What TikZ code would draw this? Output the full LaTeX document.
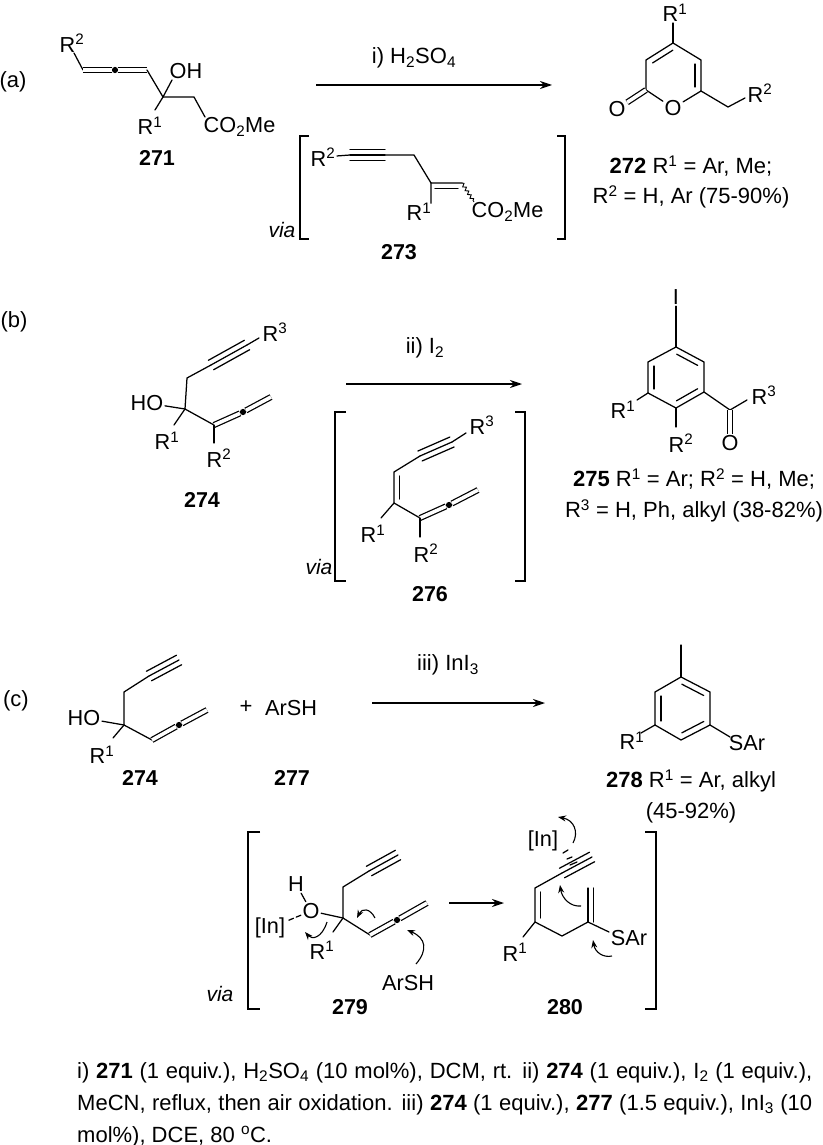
\documentclass[tikz,border=0pt]{standalone}
\usepackage{fontspec}
\usepackage{tikz}
\usetikzlibrary{calc,arrows.meta,decorations.pathmorphing}
\setmainfont{Liberation Sans}

\tikzset{
    bond/.style={line width=1.25pt, line cap=round},
    dblbond/.style={line width=1.25pt, double, double distance=3.6pt},
    wavy/.style={line width=0.9pt, decorate, decoration={snake, segment length=4.5pt, amplitude=1.5pt}},
    rxnarrow/.style={line width=1.25pt, -{Stealth[length=12pt, width=8pt]}},
    curvearrow/.style={line width=1.1pt, -{Stealth[length=8pt, width=6pt]}},
    bracket/.style={line width=1.4pt},
    atom/.style={font=\fontsize{21.7}{24}\selectfont, inner sep=1.5pt},
    txt/.style={font=\fontsize{22}{24}\selectfont, inner sep=0pt},
    viatxt/.style={font=\fontsize{21}{24}\selectfont\itshape, inner sep=0pt},
    cpd/.style={font=\fontsize{21.5}{24}\selectfont\bfseries, inner sep=0pt},
    allenedot/.style={circle, fill=black, inner sep=2.2pt}
}
% side line of a ring double bond, and a triple bond
\newcommand{\innerbond}[3][6]{\draw[bond, shorten <=4pt, shorten >=4pt] ($(#2)!#1pt!-90:(#3)$) -- ($(#3)!#1pt!90:(#2)$);}
\newcommand{\triplebond}[2]{
    \draw[bond] (#1) -- (#2);
    \draw[bond] ($(#1)!5.4pt!90:(#2)$) -- ($(#2)!5.4pt!-90:(#1)$);
    \draw[bond] ($(#1)!5.4pt!-90:(#2)$) -- ($(#2)!5.4pt!90:(#1)$);
}
\newcommand{\sqbracket}[4]{\draw[bracket] (#3,#1) -- (#2,#1) -- (#2,#4) -- (#3,#4);}

\begin{document}
\begin{tikzpicture}[x=1pt, y=-1pt]
    \useasboundingbox (0,0) rectangle (822,1145);

    % (a)
    \node[txt] (laba) at (13,82) {(a)};
    \foreach \n/\x/\y in {a0/74/53, a1/83/70, a3/147/70, a4/163/97, a5/194/97, a6/205/117, a7/172/80, a8/155/110}
        \coordinate (\n) at (\x,\y);
    \node[allenedot] (a2) at (115,70) {};
    \node[atom] (aR2) at (72,43) {R\textsuperscript{2}};
    \node[atom] (aOH) at (186,71) {OH};
    \node[atom] (aR1) at (150,126) {R\textsuperscript{1}};
    \node[atom, anchor=west] (aCO) at (202,127) {CO\textsubscript{2}Me};
    \node[cpd] (c271) at (157,158) {271};
    \draw[bond] (a0) -- (a1);
    \draw[dblbond] (a1) -- (a2);
    \draw[dblbond] (a2) -- (a3);
    \draw[bond] (a3) -- (a4) -- (a5) -- (a6);
    \draw[bond] (a4) -- (a7);
    \draw[bond] (a4) -- (a8);

    \coordinate (arra1) at (316,85);
    \coordinate (arra2) at (552,85);
    \draw[rxnarrow] (arra1) -- (arra2);
    \node[txt] (conda) at (414,58) {i) H\textsubscript{2}SO\textsubscript{4}};

    \sqbracket{136}{300}{309}{239}
    \sqbracket{136}{565}{557}{239}
    \node[viatxt] (viaa) at (282,230) {via};
    \foreach \n/\x/\y in {v0/350/155, v1/385/155, v2/414/155, v3/431/183, v4/462/183, v5/474/202}
        \coordinate (\n) at (\x,\y);
    \node[atom] (vR2) at (323,157) {R\textsuperscript{2}};
    \node[atom] (vR1) at (419,212) {R\textsuperscript{1}};
    \node[atom, anchor=west] (vCO) at (470,212) {CO\textsubscript{2}Me};
    \node[cpd] (c273) at (399,252) {273};
    \draw[bond] (vR2) -- (v0);
    \triplebond{v0}{v1}
    \draw[bond] (v1) -- (v2) -- (v3) -- (v4);
    \draw[bond] ($(v3)+(4,5.5)$) -- ($(v4)+(-4,5.5)$);
    \draw[wavy] (v4) -- (v5);
    \draw[bond] (v3) -- ($(vR1.north east)+(-2,2)$);

    % pyranone
    \foreach \n/\x/\y in {p0/673/23, p4/673/43, p3/646/60, p5/701/60, p2/646/90, p6/701/91, p7/728/107, p8/745/98}
        \coordinate (\n) at (\x,\y);
    \node[atom] (pR1) at (675,13) {R\textsuperscript{1}};
    \node[atom] (pO1) at (673,108) {O};
    \node[atom] (pO2) at (617,109) {O};
    \node[atom] (pR2) at (760,93) {R\textsuperscript{2}};
    \draw[bond] (p4) -- (p0);
    \draw[bond] (p4) -- (p3) -- (p2) -- (pO1) -- (p6) -- (p5) -- (p4);
    \innerbond{p3}{p4}
    \innerbond{p5}{p6}
    \draw[dblbond] (p2) -- (pO2);
    \draw[bond] (p6) -- (p7) -- (p8);
    \node[txt] (t272a) at (691,166) {\textbf{272} R\textsuperscript{1} = Ar, Me;};
    \node[txt] (t272b) at (691,197) {R\textsuperscript{2} = H, Ar (75-90\%)};

    % (b)
    \node[txt] (labb) at (14,322) {(b)};
    \foreach \n/\x/\y in {b1/187/378, b2/185/409, b3/214/425, b5/271/397, b6/259/338, b7/211/365, b8/247/345, b9/214/443, b10/174/425}
        \coordinate (\n) at (\x,\y);
    \node[allenedot] (b4) at (243,412) {};
    \node[atom] (bR3) at (275,332) {R\textsuperscript{3}};
    \node[atom] (bHO) at (147,403) {HO};
    \node[atom] (bR1) at (167,441) {R\textsuperscript{1}};
    \node[atom] (bR2) at (219,458) {R\textsuperscript{2}};
    \node[cpd] (c274a) at (202,500) {274};
    \draw[bond] (b6) -- (b8);
    \triplebond{b8}{b7}
    \draw[bond] (b7) -- (b1) -- (b2) -- (b3);
    \draw[bond] (bHO) -- (b2);
    \draw[bond] (b2) -- (b10);
    \draw[dblbond] (b3) -- (b4);
    \draw[dblbond] (b4) -- (b5);
    \draw[bond] (b3) -- (b9);

    \coordinate (arrb1) at (346,384);
    \coordinate (arrb2) at (522,384);
    \draw[rxnarrow] (arrb1) -- (arrb2);
    \node[txt] (condb) at (425,348) {ii) I\textsubscript{2}};

    \sqbracket{412}{335}{346}{581}
    \sqbracket{412}{525}{515}{581}
    \node[viatxt] (viab) at (319,567) {via};
    \foreach \n/\x/\y in {w1/394/472, w2/394/503, w3/420/518, w5/478/490, w6/466/433, w7/420/456, w8/452/442, w9/420/537, w10/381/518}
        \coordinate (\n) at (\x,\y);
    \node[allenedot] (w4) at (449,505) {};
    \node[atom] (wR3) at (482,425) {R\textsuperscript{3}};
    \node[atom] (wR1) at (373,534) {R\textsuperscript{1}};
    \node[atom] (wR2) at (426,553) {R\textsuperscript{2}};
    \node[cpd] (c276) at (430,594) {276};
    \draw[bond] (w6) -- (w8);
    \triplebond{w8}{w7}
    \draw[bond] (w7) -- (w1) -- (w2) -- (w3);
    \draw[bond] ($(w1)+(5.5,4)$) -- ($(w2)+(5.5,-4)$);
    \draw[bond] (w2) -- (w10);
    \draw[dblbond] (w3) -- (w4);
    \draw[dblbond] (w4) -- (w5);
    \draw[bond] (w3) -- (w9);

    % iodoarene
    \foreach \n/\x/\y in {r1/676/347, r2/704/362, r3/704/392, r4/676/408, r5/648/393, r6/648/362, r7/730/410, r8/637/400, r9/676/427, r10/747/400}
        \coordinate (\n) at (\x,\y);
    \node[atom] (rI) at (676,297) {I};
    \node[atom] (rR1) at (623,410) {R\textsuperscript{1}};
    \node[atom] (rR2) at (681,443) {R\textsuperscript{2}};
    \node[atom] (rR3) at (764,395) {R\textsuperscript{3}};
    \node[atom] (rO) at (730,443) {O};
    \draw[bond] (r1) -- (r2) -- (r3) -- (r4) -- (r5) -- (r6) -- cycle;
    \innerbond{r1}{r2}
    \innerbond{r3}{r4}
    \innerbond{r5}{r6}
    \draw[bond] (r1) -- (rI);
    \draw[bond] (r5) -- (r8);
    \draw[bond] (r4) -- (r9);
    \draw[bond] (r3) -- (r7) -- (r10);
    \draw[dblbond] (r7) -- (rO);
    \node[txt] (t275a) at (694,479) {\textbf{275} R\textsuperscript{1} = Ar; R\textsuperscript{2} = H, Me;};
    \node[txt] (t275b) at (694,511) {R\textsuperscript{3} = H, Ph, alkyl (38-82\%)};

    % (c)
    \node[txt] (labc) at (16,701) {(c)};
    \foreach \n/\x/\y in {d1/124/692, d2/124/725, d3/152/740, d5/207/710, d6/179/660, d7/149/676, d8/113/738}
        \coordinate (\n) at (\x,\y);
    \node[allenedot] (d4) at (179,725) {};
    \node[atom] (dHO) at (84,718) {HO};
    \node[atom] (dR1) at (102,755) {R\textsuperscript{1}};
    \node[cpd] (c274b) at (140,778) {274};
    \triplebond{d7}{d6}
    \draw[bond] (d7) -- (d1) -- (d2) -- (d3);
    \draw[bond] (dHO) -- (d2);
    \draw[bond] (d2) -- (d8);
    \draw[dblbond] (d3) -- (d4);
    \draw[dblbond] (d4) -- (d5);
    \node[txt] (plus) at (246,707) {+};
    \node[atom] (dArSH) at (291,708) {ArSH};
    \node[cpd] (c277) at (292,778) {277};

    \coordinate (arrc1) at (372,703);
    \coordinate (arrc2) at (545,703);
    \draw[rxnarrow] (arrc1) -- (arrc2);
    \node[txt] (condc) at (448,665) {iii) InI\textsubscript{3}};

    % thioether arene
    \foreach \n/\x/\y in {s1/681/677, s2/710/692, s3/710/725, s4/681/740, s5/655/725, s6/655/692, s0/681/645, s7/641/733, s8/730/737}
        \coordinate (\n) at (\x,\y);
    \node[atom] (sR1) at (632,741) {R\textsuperscript{1}};
    \node[atom] (sSAr) at (747,743) {SAr};
    \draw[bond] (s1) -- (s2) -- (s3) -- (s4) -- (s5) -- (s6) -- cycle;
    \innerbond{s1}{s2}
    \innerbond{s3}{s4}
    \innerbond{s5}{s6}
    \draw[bond] (s0) -- (s1);
    \draw[bond] (s5) -- (s7);
    \draw[bond] (s3) -- (s8);
    \node[txt] (t278a) at (691,781) {\textbf{278} R\textsuperscript{1} = Ar, alkyl};
    \node[txt] (t278b) at (691,813) {(45-92\%)};

    % intermediates
    \sqbracket{832}{248}{260}{1009}
    \sqbracket{832}{656}{645}{1009}
    \node[viatxt] (viac) at (220,994) {via};
    \foreach \n/\x/\y in {e1/343/887, e2/343/918, e3/370/935, e5/427/903, e6/398/855, e7/369/871, e8/333/932}
        \coordinate (\n) at (\x,\y);
    \node[allenedot] (e4) at (397,920) {};
    \node[atom] (eO) at (311,911) {O};
    \node[atom] (eH) at (296,884) {H};
    \node[atom] (eIn) at (270,928) {[In]};
    \node[atom] (eR1) at (322,950) {R\textsuperscript{1}};
    \node[atom] (eArSH) at (408,983) {ArSH};
    \node[cpd] (c279) at (350,1007) {279};
    \triplebond{e7}{e6}
    \draw[bond] (e7) -- (e1) -- (e2) -- (e3);
    \draw[bond] (eO) -- (e2);
    \draw[bond] (eH) -- (eO);
    \draw[bond, dash pattern=on 5pt off 3pt] (eO) -- (eIn);
    \draw[bond] (e2) -- (e8);
    \draw[dblbond] (e3) -- (e4);
    \draw[dblbond] (e4) -- (e5);
    \foreach \n/\x/\y in {ca1/327/922, ca2/305/932, cb1/375/918, cb2/357/918, cc1/416/964, cc2/407/930}
        \coordinate (\n) at (\x,\y);
    \draw[curvearrow] (ca1) .. controls (322,938) and (312,940) .. (ca2);
    \draw[curvearrow] (cb1) .. controls (370,908) and (362,908) .. (cb2);
    \draw[curvearrow] (cc1) .. controls (428,950) and (426,938) .. (cc2);

    \coordinate (arrd1) at (449,903);
    \coordinate (arrd2) at (504,903);
    \draw[rxnarrow] (arrd1) -- (arrd2);

    \foreach \n/\x/\y in {f1/535/888, f2/535/922, f3/562/936, f4/588/922, f5/588/888, f6/592/857, f7/562/873, f8/523/937, f9/609/932}
        \coordinate (\n) at (\x,\y);
    \node[atom] (fIn) at (543,841) {[In]};
    \node[atom] (fR1) at (515,952) {R\textsuperscript{1}};
    \node[atom] (fSAr) at (629,938) {SAr};
    \node[cpd] (c280) at (565,1007) {280};
    \triplebond{f7}{f6}
    \draw[bond] (f7) -- (f1) -- (f2) -- (f3) -- (f4);
    \draw[bond] ($(f1)+(5.5,4)$) -- ($(f2)+(5.5,-4)$);
    \draw[bond] (f2) -- (f8);
    \draw[bond] (f4) -- (f5);
    \draw[bond] ($(f4)+(5.5,0)$) -- ($(f5)+(5.5,0)$);
    \draw[bond] (f4) -- (f9);
    % In to alkyne, short strokes
    \foreach \n/\x/\y in {g1/563/853, g2/568/850, g3/567/859, g4/572/857, g5/570/865, g6/577/862}
        \coordinate (\n) at (\x,\y);
    \draw[bond] (g1) -- (g2);
    \draw[bond] (g3) -- (g4);
    \draw[bond] (g5) -- (g6);
    \foreach \n/\x/\y in {cd1/573/843, cd2/558/817, ce1/581/906, ce2/560/885, cf1/612/956, cf2/593/940}
        \coordinate (\n) at (\x,\y);
    \draw[curvearrow] (cd1) .. controls (579,832) and (574,820) .. (cd2);
    \draw[curvearrow] (ce1) .. controls (570,907) and (562,898) .. (ce2);
    \draw[curvearrow] (cf1) .. controls (603,958) and (595,952) .. (cf2);

    % conditions
    \node[font=\fontsize{22}{24}\selectfont, inner sep=0pt, anchor=north west, text width=735pt, align=justify] (foot) at (77,1062) {\baselineskip=32pt i) \textbf{271} (1 equiv.), H\textsubscript{2}SO\textsubscript{4} (10 mol\%), DCM, rt. ii) \textbf{274} (1 equiv.), I\textsubscript{2} (1 equiv.),\linebreak MeCN, reflux, then air oxidation. iii) \textbf{274} (1 equiv.), \textbf{277} (1.5 equiv.), InI\textsubscript{3} (10\linebreak mol\%), DCE, 80 \textsuperscript{o}C.\par};
\end{tikzpicture}
\end{document}
